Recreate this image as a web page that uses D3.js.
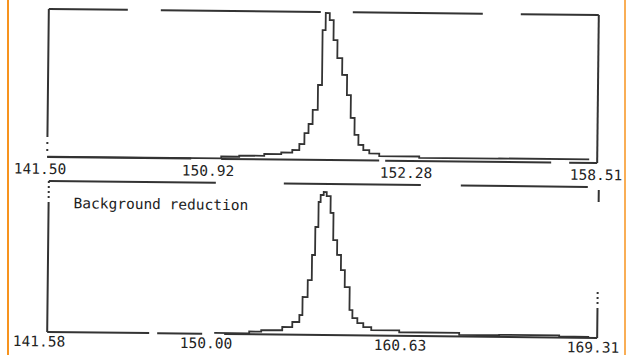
<!DOCTYPE html>
<html><head><meta charset="utf-8">
<script src="https://cdn.jsdelivr.net/npm/d3@7"></script>
<style>html,body{margin:0;padding:0;background:#fff;}svg{display:block;}</style>
</head><body>
<svg id="c" width="626" height="355"></svg>
<script>
// ---- data (channel numbers, counts) ----
const topChannels = [0,174,192,217,234,245,252,257,261,265,270,274,277,281,285,289,294,299,303,307,311,316,322,332,372,452,542];
const topCounts   = [3,16,24,37,48,66,107,182,244,340,510,884,1000,952,816,695,580,444,288,173,105,71,48,31,22,24,24];
const botChannels = [167,202,214,235,245,252,255,260,264,267,270,272,275,278,282,285,289,293,297,302,305,310,316,324,352,412,452,512,542];
const botCounts   = [6,19,30,53,89,138,264,383,559,755,930,979,1000,972,854,665,561,456,337,177,120,86,59,38,25,12,15,8,8];
const topTickChannels = [-7,161,359,549];
const topTickLabels   = ["141.50","150.92","152.28","158.51"];
const botTickChannels = [-8,159,353,546];
const botTickLabels   = ["141.58","150.00","160.63","169.31"];
const panelTitle = "Background reduction";

const svg = d3.select("#c");
const ink = "#333";
const orange = "#f7931e";

svg.append("line").attr("x1",8).attr("x2",8).attr("y1",0).attr("y2",355).attr("stroke",orange).attr("stroke-width",2);
svg.append("line").attr("x1",625).attr("x2",625).attr("y1",0).attr("y2",355).attr("stroke",orange).attr("stroke-width",1.5);

const left = 48, right = 598, tilt = 0.63;
const x = d3.scaleLinear().domain([0,550]).range([left,right]);

function panel(top, bottom, peakY, labelDy, channels, counts, tickCh, tickLab, dashes, title) {
  const cx = (left+right)/2, cy = (top+bottom)/2;
  const g = svg.append("g").attr("transform", `rotate(${tilt},${cx},${cy})`);
  const y = d3.scaleLinear().domain([0,1000]).range([bottom, peakY]);
  const sides = [
    {x1:left,y1:top,x2:right,y2:top,d:dashes.top},
    {x1:right,y1:top,x2:right,y2:bottom,d:dashes.right},
    {x1:left,y1:bottom,x2:right,y2:bottom,d:dashes.bottom},
    {x1:left,y1:top,x2:left,y2:bottom,d:dashes.left}
  ];
  g.selectAll("line.f").data(sides).join("line").attr("class","f")
    .attr("x1",d=>d.x1).attr("y1",d=>d.y1).attr("x2",d=>d.x2).attr("y2",d=>d.y2)
    .attr("stroke",ink).attr("stroke-width",2).attr("stroke-dasharray",d=>d.d);
  const pts = channels.map((c,i)=>[c,counts[i]]);
  const line = d3.line().x(d=>x(d[0])).y(d=>y(d[1])).curve(d3.curveStepAfter);
  g.append("path").attr("d",line(pts)).attr("fill","none").attr("stroke",ink).attr("stroke-width",1.8);
  g.selectAll("text.t").data(tickCh).join("text").attr("class","t")
    .attr("x",d=>x(d)).attr("y",bottom+labelDy).attr("text-anchor","middle")
    .attr("font-family","DejaVu Sans Mono").attr("font-size",14.5).attr("fill","#222")
    .text((d,i)=>tickLab[i]);
  if (title) {
    g.append("text").attr("x",73).attr("y",top+27).attr("font-family","DejaVu Sans Mono")
      .attr("font-size",14.5).attr("fill","#222").text(title);
  }
}

panel(12, 160, 13, 17, topChannels, topCounts, topTickChannels, topTickLabels, {
  top:"79,33,160,32,130,38,78",
  right:"none",
  bottom:"144,30,158,6,166,18,30",
  left:"128,5,2,5,2,6"
}, null);

panel(184, 335, 192, 14.5, botChannels, botCounts, botTickChannels, botTickLabels, {
  top:"167,68,137,40,127,11",
  right:"0,3,12,90,2,3,2,3,2,4,28",
  bottom:"102,8,45,22,373",
  left:"2,3,2,3,2,3,2,4,130"
}, panelTitle);
</script>
</body></html>
